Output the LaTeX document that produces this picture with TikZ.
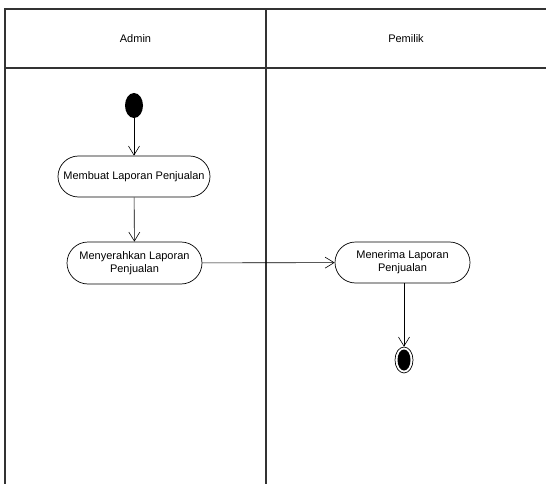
\documentclass[tikz,border=0pt]{standalone}
\usepackage{fontspec}
\setmainfont{Liberation Sans}
\usetikzlibrary{arrows.meta,shapes.misc,shapes.geometric}
\begin{document}
\begin{tikzpicture}[x=1pt,y=-1pt,
  lane/.style={draw=black!80, line width=1.2pt},
  act/.style={draw, rounded rectangle, line width=0.7pt, align=center, inner sep=0pt,
    font=\fontsize{11}{13}\selectfont},
  flow/.style={draw, line width=0.6pt, -{Straight Barb[length=9pt,width=11pt,line width=0.6pt]}},
  lbl/.style={font=\fontsize{11}{13}\selectfont}]
\useasboundingbox (0,0) rectangle (546,484);
% swimlanes
\draw[lane] (5,484) -- (5,9) -- (546,9);
\draw[lane] (5,68) -- (546,68);
\draw[lane] (266,9) -- (266,484);
\node[lbl] (hAdmin) at (135.5,39) {Admin};
\node[lbl] (hPemilik) at (406,39) {Pemilik};
% nodes
\node[fill=black, ellipse, minimum width=18pt, minimum height=25pt, inner sep=0pt] (start) at (134,105.5) {};
\node[act, minimum width=152pt, minimum height=41pt] (a1) at (134,176.5) {Membuat Laporan Penjualan};
\node[act, minimum width=135pt, minimum height=42pt] (a2) at (134.5,263) {Menyerahkan Laporan\\Penjualan};
\node[act, minimum width=135pt, minimum height=41pt] (a3) at (402.5,262.5) {Menerima Laporan\\Penjualan};
\node[draw, ellipse, minimum width=18pt, minimum height=26pt, inner sep=0pt, line width=0.7pt] (end) at (404,360) {};
\node[fill=black, ellipse, minimum width=13pt, minimum height=21pt, inner sep=0pt] (endin) at (404,360) {};
% flows
\draw[flow] (start) -- (a1);
\draw[flow] (a1) -- (a2);
\draw[flow] (a2) -- (a3);
\draw[flow] (a3.south -| end) -- (end);
\end{tikzpicture}
\end{document}
